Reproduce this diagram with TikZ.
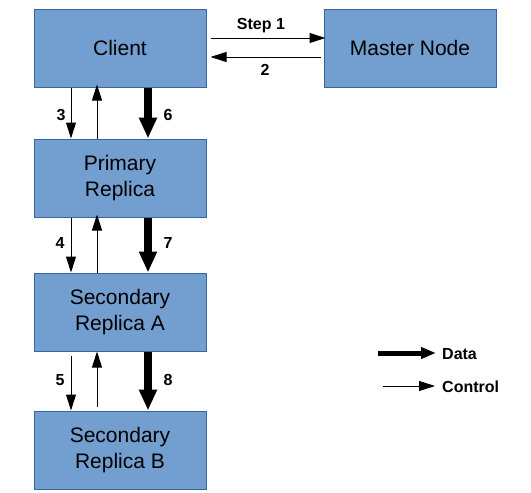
\documentclass[tikz,border=0pt]{standalone}
\usepackage{fontspec}
\setmainfont{Liberation Sans}
\usetikzlibrary{arrows.meta}
\definecolor{boxfill}{HTML}{729FCF}
\definecolor{boxline}{HTML}{3465A4}
\tikzset{
  box/.style={draw=boxline, fill=boxfill, line width=1pt, minimum width=172pt, minimum height=78pt, align=center, inner sep=2pt, font=\fontsize{21}{26.5}\selectfont},
  lbl/.style={font=\fontsize{16}{19}\selectfont\bfseries, inner sep=0pt},
  ctrl/.style={line width=1pt, -{Triangle[length=16pt,width=10pt]}},
  data/.style={line width=8pt, -{Triangle[length=21pt,width=17pt]}},
  legdata/.style={line width=5pt, -{Triangle[length=15pt,width=11pt]}},
}
\begin{document}
\begin{tikzpicture}[x=1pt,y=-1pt]
\useasboundingbox (0,0) rectangle (531,493);
\node[box] (client) at (120,48) {Client};
\node[box] (master) at (410,48) {Master Node};
\node[box] (primary) at (120,178) {Primary\\Replica};
\node[box] (seca) at (120,312) {Secondary\\Replica A};
\node[box] (secb) at (120,450) {Secondary\\Replica B};

% client <-> master
\draw[ctrl] ([xshift=4pt,yshift=10pt]client.east) -- ([xshift=2pt,yshift=10pt]master.west);
\draw[ctrl] ([xshift=-3pt,yshift=-9pt]master.west) -- ([xshift=4pt,yshift=-9pt]client.east);
\node[lbl] (l1) at (261,26) {Step 1};
\node[lbl] (l2) at (265,70) {2};

% client <-> primary
\draw[ctrl] ([xshift=-49pt]client.south) -- ([xshift=-49pt]primary.north);
\draw[ctrl] ([xshift=-23pt]primary.north) -- ([xshift=-23pt,yshift=3pt]client.south);
\draw[data] ([xshift=28pt]client.south) -- ([xshift=28pt]primary.north);
\node[lbl] (l3) at (61,115) {3};
\node[lbl] (l6) at (168,115) {6};

% primary <-> seca
\draw[ctrl] ([xshift=-49pt]primary.south) -- ([xshift=-49pt]seca.north);
\draw[ctrl] ([xshift=-23pt]seca.north) -- ([xshift=-23pt,yshift=3pt]primary.south);
\draw[data] ([xshift=28pt]primary.south) -- ([xshift=28pt]seca.north);
\node[lbl] (l4) at (60,243) {4};
\node[lbl] (l7) at (168,243) {7};

% seca <-> secb
\draw[ctrl] ([xshift=-49pt,yshift=-4pt]seca.south) -- ([xshift=-49pt]secb.north);
\draw[ctrl] ([xshift=-23pt,yshift=4pt]secb.north) -- ([xshift=-23pt]seca.south);
\draw[data] ([xshift=28pt]seca.south) -- ([xshift=28pt]secb.north);
\node[lbl] (l5) at (60,380) {5};
\node[lbl] (l8) at (168,380) {8};

% legend
\coordinate (d1) at (378,353);
\coordinate (d2) at (436,353);
\coordinate (c1) at (383,386);
\coordinate (c2) at (435,386);
\draw[legdata] (d1) -- (d2);
\draw[ctrl] (c1) -- (c2);
\node[lbl, anchor=west] (ld) at (442,354) {Data};
\node[lbl, anchor=west] (lc) at (442,387) {Control};
\end{tikzpicture}
\end{document}
